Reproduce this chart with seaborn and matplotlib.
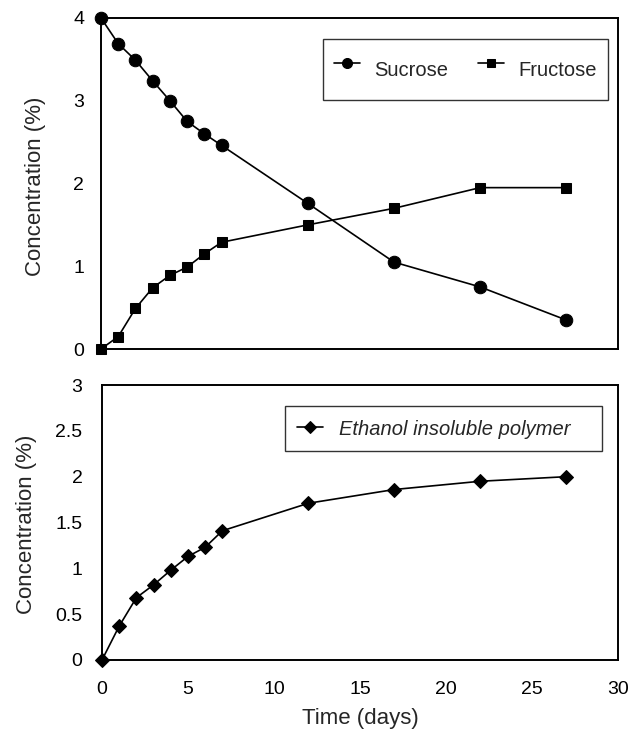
import matplotlib
matplotlib.use("Agg")
import matplotlib.pyplot as plt
import seaborn as sns
import pandas as pd

days = [0, 1, 2, 3, 4, 5, 6, 7, 12, 17, 22, 27]
sucrose = [4.0, 3.69, 3.49, 3.24, 3.0, 2.75, 2.6, 2.46, 1.76, 1.05, 0.75, 0.35]
fructose = [0.0, 0.15, 0.49, 0.74, 0.89, 0.99, 1.15, 1.29, 1.5, 1.7, 1.95, 1.95]
polymer = [0.0, 0.37, 0.68, 0.82, 0.98, 1.13, 1.23, 1.41, 1.71, 1.86, 1.95, 2.0]
x_ticks = [0, 5, 10, 15, 20, 25, 30]
top_yticks = [0, 1, 2, 3, 4]
bot_yticks = [0, 0.5, 1, 1.5, 2, 2.5, 3]
bot_yticklabels = ["0", "0.5", "1", "1.5", "2", "2.5", "3"]

sns.set_style("white")
plt.rcParams["font.family"] = ["Liberation Sans", "DejaVu Sans"]

df = pd.DataFrame({"day": days, "Sucrose": sucrose, "Fructose": fructose,
                   "polymer": polymer})

W, H = 643, 738
fig = plt.figure(figsize=(W / 100, H / 100), dpi=100)


def rect(l, r, t, b):
    return [l / W, 1 - b / H, (r - l) / W, (b - t) / H]


def box(l, r, t, b):
    return (l / W, 1 - b / H, (r - l) / W, (b - t) / H)


ax1 = fig.add_axes(rect(101, 618, 18, 349))
ax2 = fig.add_axes(rect(102, 618, 385, 660))

tfs = 14
lfs = 16
gfs = 14.5

sns.lineplot(data=df, x="day", y="Sucrose", ax=ax1, color="black", marker="o",
             markersize=9, markeredgecolor="black", linewidth=1.2,
             label="Sucrose", clip_on=False)
sns.lineplot(data=df, x="day", y="Fructose", ax=ax1, color="black", marker="s",
             markersize=7.5, markeredgecolor="black", linewidth=1.2,
             label="Fructose", clip_on=False)
sns.lineplot(data=df, x="day", y="polymer", ax=ax2, color="black", marker="D",
             markersize=7.5, markeredgecolor="black", linewidth=1.2,
             label="Ethanol insoluble polymer", clip_on=False)

for ax in (ax1, ax2):
    ax.set_xlim(0, 30)
    ax.set_xticks(x_ticks)
    for s in ax.spines.values():
        s.set_visible(True)
        s.set_color("black")
        s.set_linewidth(1.4)
    ax.tick_params(axis="x", direction="in", length=4, width=1, colors="black",
                   labelsize=tfs, pad=15)
    ax.tick_params(axis="y", direction="in", length=5, width=1, colors="black",
                   labelsize=tfs, pad=12)
    ax.set_ylabel("Concentration (%)", fontsize=lfs)

ax1.set_ylim(0, 4)
ax1.set_yticks(top_yticks)
ax1.set_xlabel("")
ax1.tick_params(axis="x", labelbottom=False)

ax2.set_ylim(0, 3)
ax2.set_yticks(bot_yticks)
ax2.set_yticklabels(bot_yticklabels)
ax2.tick_params(axis="y", pad=14)
ax2.set_xlabel("Time (days)", fontsize=lfs, labelpad=7)

ax1.yaxis.label.set_verticalalignment("center")
ax2.yaxis.label.set_verticalalignment("center")
ax1.yaxis.set_label_coords(36 / W, 1 - 186 / H, transform=fig.transFigure)
ax2.yaxis.set_label_coords(27 / W, 1 - 524 / H, transform=fig.transFigure)

leg1 = ax1.legend(loc="upper left",
                  bbox_to_anchor=box(323, 608, 39, 103),
                  bbox_transform=fig.transFigure, ncol=2, mode="expand",
                  frameon=True, fancybox=False, edgecolor="black",
                  fontsize=gfs, handlelength=1.3, handleheight=2.6,
                  columnspacing=0.8, handletextpad=0.7,
                  borderpad=0.55, borderaxespad=0, markerscale=0.8)
leg1.get_frame().set_linewidth(1.0)

leg2 = ax2.legend(loc="upper left",
                  bbox_to_anchor=box(285, 602, 406, 452),
                  bbox_transform=fig.transFigure, mode="expand",
                  frameon=True, fancybox=False, edgecolor="black",
                  handlelength=1.3, handleheight=1.2, handletextpad=0.8,
                  borderpad=0.6, borderaxespad=0, markerscale=0.8,
                  prop={"style": "italic", "size": gfs})
leg2.get_frame().set_linewidth(1.0)

fig.savefig("out.png", dpi=100)
